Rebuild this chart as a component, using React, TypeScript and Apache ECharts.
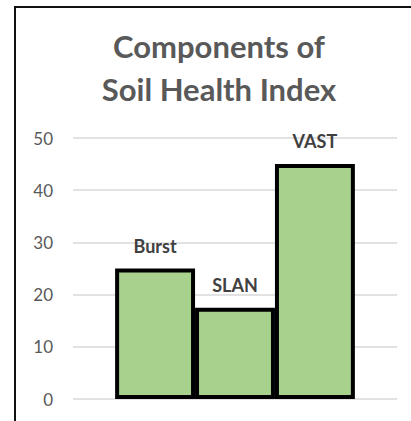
import React, { useEffect, useRef } from "react";
import * as echarts from "echarts";

const titleLines = ["Components of", "Soil Health Index"];
const components = ["Burst", "SLAN", "VAST"];
const values = [25, 17.5, 45];
const yTicks = [0, 10, 20, 30, 40, 50];

export default function App() {
  const ref = useRef<HTMLDivElement>(null);
  useEffect(() => {
    if (!ref.current) return;
    const chart = echarts.init(ref.current, null, { renderer: "svg" });
    const font = "Lato, 'Open Sans', sans-serif";
    chart.setOption({
      animation: false,
      backgroundColor: "#ffffff",
      title: {
        text: titleLines.join("\n"),
        left: 214,
        top: 19,
        textAlign: "center",
        textStyle: {
          fontFamily: font,
          fontWeight: "bold",
          fontSize: 31,
          lineHeight: 43,
          color: "#595959",
        },
      },
      graphic: [
        {
          type: "rect",
          shape: { x: 15, y: 7, width: 420, height: 440 },
          style: { fill: "none", stroke: "#111111", lineWidth: 2 },
          silent: true,
        },
      ],
      grid: { left: 73, right: 14, top: 138, bottom: 22, containLabel: false },
      xAxis: {
        type: "category",
        data: [""],
        axisLine: { show: false },
        axisTick: { show: false },
        axisLabel: { show: false },
      },
      yAxis: {
        type: "value",
        min: yTicks[0],
        max: yTicks[yTicks.length - 1],
        interval: 10,
        axisLine: { show: false },
        axisTick: { show: false },
        axisLabel: {
          margin: 20,
          fontFamily: font,
          fontSize: 17,
          color: "#595959",
        },
        splitLine: { lineStyle: { color: "#d9d9d9", width: 1.5 } },
      },
      series: components.map((name, i) => ({
        type: "bar",
        name,
        data: [values[i]],
        barGap: "0%",
        barCategoryGap: "26%",
        itemStyle: { color: "#A9D18E", borderColor: "#000000", borderWidth: 4 },
        label: {
          show: true,
          position: "top",
          distance: 14,
          formatter: name,
          fontFamily: font,
          fontWeight: "bold",
          fontSize: 18,
          color: "#404040",
        },
      })),
    });
    return () => chart.dispose();
  }, []);
  return (
    <div
      ref={ref}
      style={{ position: "absolute", left: 0, top: 0, width: 411, height: 421 }}
    />
  );
}
